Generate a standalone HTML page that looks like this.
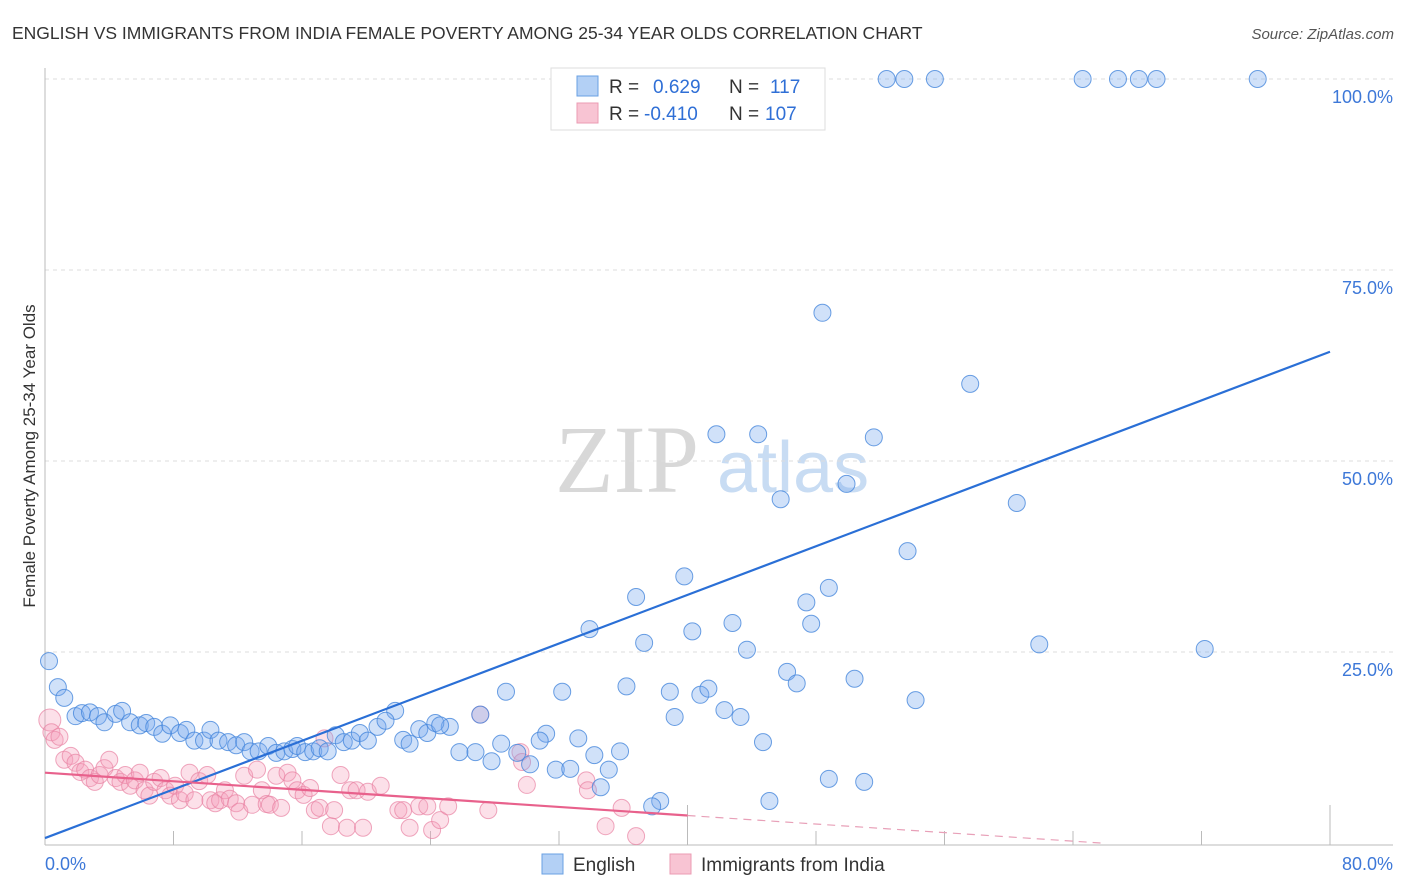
<!DOCTYPE html>
<html><head><meta charset="utf-8">
<style>
body{margin:0;background:#fff;font-family:"Liberation Sans",sans-serif;}
#wrap{position:relative;width:1406px;height:892px;overflow:hidden;}
</style></head>
<body>
<div id="wrap">
<svg id="svg" width="1406" height="892" xmlns="http://www.w3.org/2000/svg">
<text x="12" y="39" font-size="17.5" fill="#333" font-family="Liberation Sans, sans-serif">ENGLISH VS IMMIGRANTS FROM INDIA FEMALE POVERTY AMONG 25-34 YEAR OLDS CORRELATION CHART</text>
<text x="1394" y="39" font-size="15" fill="#555" font-style="italic" text-anchor="end">Source: ZipAtlas.com</text>
<text x="35" y="456" font-size="17" fill="#333" text-anchor="middle" transform="rotate(-90 35 456)">Female Poverty Among 25-34 Year Olds</text>
<g>
<text x="555" y="492" font-size="96" fill="#d8d8d8" font-family="Liberation Serif, serif">ZIP</text>
<text x="717" y="492" font-size="72" fill="#c8dcf3">atlas</text>
</g>
<g id="grid"></g>
<g id="pts"></g>
<g id="lines"></g>
<g>
<rect x="551" y="68" width="274" height="62" fill="#fff" stroke="#ddd"/>
<rect x="577" y="76" width="21" height="20" fill="#b3d0f5" stroke="#6aa0e3"/>
<rect x="577" y="103" width="21" height="20" fill="#f8c4d3" stroke="#eb9bb3"/>
<text x="609" y="93" font-size="19" fill="#333">R = </text><text x="653" y="93" font-size="19" fill="#2f6fd6">0.629</text>
<text x="729" y="93" font-size="19" fill="#333">N = </text><text x="770" y="93" font-size="19" fill="#2f6fd6">117</text>
<text x="609" y="120" font-size="19" fill="#333">R = </text><text x="644" y="120" font-size="19" fill="#2f6fd6">-0.410</text>
<text x="729" y="120" font-size="19" fill="#333">N = </text><text x="765" y="120" font-size="19" fill="#2f6fd6">107</text>
</g>
<g>
<rect x="542" y="854" width="21" height="20" fill="#b3d0f5" stroke="#6aa0e3"/>
<text x="573" y="871" font-size="19" fill="#333">English</text>
<rect x="670" y="854" width="21" height="20" fill="#f8c4d3" stroke="#eb9bb3"/>
<text x="701" y="871" font-size="19" fill="#333">Immigrants from India</text>
</g>
</svg>
</div>
<script>
const yTicks=[25,50,75,100];
const yTickLabels=["25.0%","50.0%","75.0%","100.0%"];
const xTickLabels=["0.0%","80.0%"];
const englishX=[52.4,53.5,55.4,64.6,66.8,68.1,69.2,75.5,48.4,57.6,41.8,44.4,51.6,49.9,45.8,60.5,53.7,39.8,36.8,48.8,47.4,33.9,40.3,42.8,47.7,37.3,61.9,72.2,43.7,46.2,46.8,50.4,28.7,32.2,36.2,38.9,40.8,41.3,54.2,42.3,43.3,39.2,44.7,27.1,21.8,25.2,31.2,33.2,28.4,30.8,25.8,26.8,27.8,29.4,30.2,31.8,32.7,34.2,35.8,35.1,34.6,48.8,51.0,45.1,38.3,37.8,0.25,0.8,1.2,1.9,2.3,2.8,3.3,3.7,4.4,4.8,5.3,5.9,6.3,6.8,7.3,7.8,8.4,8.8,9.3,9.9,10.3,10.8,11.4,11.9,12.4,12.8,13.3,13.9,14.4,14.9,15.4,15.7,16.2,16.7,17.1,17.6,18.1,18.6,19.1,19.6,20.1,20.7,21.2,22.3,22.7,23.3,23.8,24.3,24.6];
const englishY=[100,100,100,100,100,100,100,100,69.4,60.1,53.5,53.5,53.1,47.0,45.0,44.5,38.2,34.9,32.2,33.4,31.5,28.0,27.7,28.8,28.7,26.2,26.0,25.4,25.3,22.4,20.9,21.5,19.8,19.8,20.5,19.8,19.4,20.2,18.7,17.4,16.5,16.5,13.2,16.8,17.3,15.2,14.3,13.7,13.0,13.4,11.9,11.9,10.7,11.8,10.3,9.6,9.7,11.5,12.0,9.6,7.3,8.4,8.0,5.5,5.5,4.8,23.8,20.4,19.0,16.6,17.0,17.1,16.6,15.8,16.9,17.3,15.8,15.4,15.7,15.2,14.3,15.4,14.4,14.8,13.4,13.4,14.8,13.4,13.2,12.8,13.2,12.0,12.0,12.7,11.8,12.0,12.3,12.7,11.9,12.0,12.4,12.0,14.1,13.2,13.4,14.4,13.4,15.2,16.0,13.5,13.0,14.9,14.4,15.7,15.4];
const indiaX=[0.3,0.4,0.6,0.9,1.2,1.6,1.9,2.2,2.5,2.8,3.1,3.4,3.7,4.0,4.4,4.7,5.0,5.3,5.6,5.9,6.2,6.5,6.8,7.2,7.5,7.8,8.1,8.4,8.7,9.0,9.3,9.6,10.1,10.3,10.6,10.9,11.2,11.5,11.9,12.1,12.4,12.9,13.2,13.5,13.8,14.0,14.4,14.7,15.1,15.4,15.7,16.1,16.5,16.8,17.1,17.4,17.8,18.0,18.4,18.8,19.0,19.4,19.8,20.1,20.9,22.0,22.3,22.7,23.3,23.8,24.1,24.6,25.1,27.1,27.6,29.6,29.7,30.0,33.7,33.8,34.9,35.9,36.8];
const indiaY=[16.1,14.5,13.5,13.9,10.9,11.4,10.5,9.3,9.6,8.5,8.0,8.9,9.8,10.9,8.5,8.0,8.9,7.5,8.2,9.2,6.9,6.2,8.0,8.5,6.9,6.2,7.5,5.6,6.5,9.2,5.6,8.1,8.9,5.6,5.2,5.6,6.9,5.8,5.2,4.1,8.8,5.0,9.6,6.9,5.1,5.0,8.8,4.6,9.2,8.2,6.9,6.3,7.2,4.3,4.6,13.7,2.2,4.3,8.9,2.0,6.9,6.9,2.0,6.7,7.5,4.3,4.3,2.0,4.8,4.8,1.7,3.0,4.8,16.8,4.3,11.9,10.6,7.6,8.2,6.9,2.2,4.6,0.9];
const englishTrend=[0.65,64.3];
const indiaTrend=[9.2,-2.0];

const X0=45,X1=1330,Y0=843,Y100=79;
function sx(v){return X0+(X1-X0)*v/80;}
function sy(v){return Y0-(Y0-Y100)*v/100;}
const NS="http://www.w3.org/2000/svg";
function mk(tag,attrs,parent){const e=document.createElementNS(NS,tag);for(const k in attrs)e.setAttribute(k,attrs[k]);parent.appendChild(e);return e;}
const grid=document.getElementById('grid');
yTicks.forEach((t,i)=>{
  const l=mk('line',{x1:X0,x2:1393,y1:sy(t),y2:sy(t),stroke:'#dcdcdc','stroke-dasharray':'4,4'},grid);
  
  
  const tx=mk('text',{x:1393,y:sy(t)+24,'font-size':18,fill:'#3d78d8','text-anchor':'end'},grid);
  tx.textContent=yTickLabels[i];
  
  
});
const ax=mk('line',{x1:X0,x2:X0,y1:68,y2:Y0+2,stroke:'#bbb'},grid);


const bx=mk('line',{x1:X0,x2:1393,y1:Y0+2,y2:Y0+2,stroke:'#bbb'},grid);


for(let i=0;i<=10;i++){
  const t=mk('line',{x1:sx(i*8),x2:sx(i*8),y1:(i%5==0)?Y0-38:Y0-12,y2:Y0+2,stroke:'#bbb'},grid);
  
  
}
const xl0=mk('text',{x:45,y:870,'font-size':18,fill:'#3d78d8'},grid);xl0.textContent=xTickLabels[0];


const xl1=mk('text',{x:1393,y:870,'font-size':18,fill:'#3d78d8','text-anchor':'end'},grid);xl1.textContent=xTickLabels[1];



const pts=document.getElementById('pts');
indiaX.forEach((x,i)=>{
  const c=mk('circle',{cx:sx(x),cy:sy(indiaY[i]),r:i==0?11:8.5,fill:'rgba(246,160,188,0.32)',stroke:'rgba(232,130,162,0.7)','stroke-width':1},pts);
  
  
});
englishX.forEach((x,i)=>{
  const c=mk('circle',{cx:sx(x),cy:sy(englishY[i]),r:8.5,fill:'rgba(120,170,238,0.35)',stroke:'rgba(70,135,220,0.8)','stroke-width':1},pts);
  
  
});
const lines=document.getElementById('lines');
const bl=mk('line',{x1:sx(0),y1:sy(englishTrend[0]),x2:sx(80),y2:sy(englishTrend[1]),stroke:'#2a6fd6','stroke-width':2.2},lines);


const slope=(indiaTrend[1]-indiaTrend[0])/80;
const pm=indiaTrend[0]+slope*40;
const xz=Math.min(80,-indiaTrend[0]/slope);
const pl=mk('line',{x1:sx(0),y1:sy(indiaTrend[0]),x2:sx(40),y2:sy(pm),stroke:'#e8618c','stroke-width':2.2},lines);


const pd=mk('line',{x1:sx(40),y1:sy(pm),x2:sx(xz),y2:sy(indiaTrend[0]+slope*xz),stroke:'#e8a0b8','stroke-width':1.2,'stroke-dasharray':'8,6'},lines);


</script>
</body></html>
